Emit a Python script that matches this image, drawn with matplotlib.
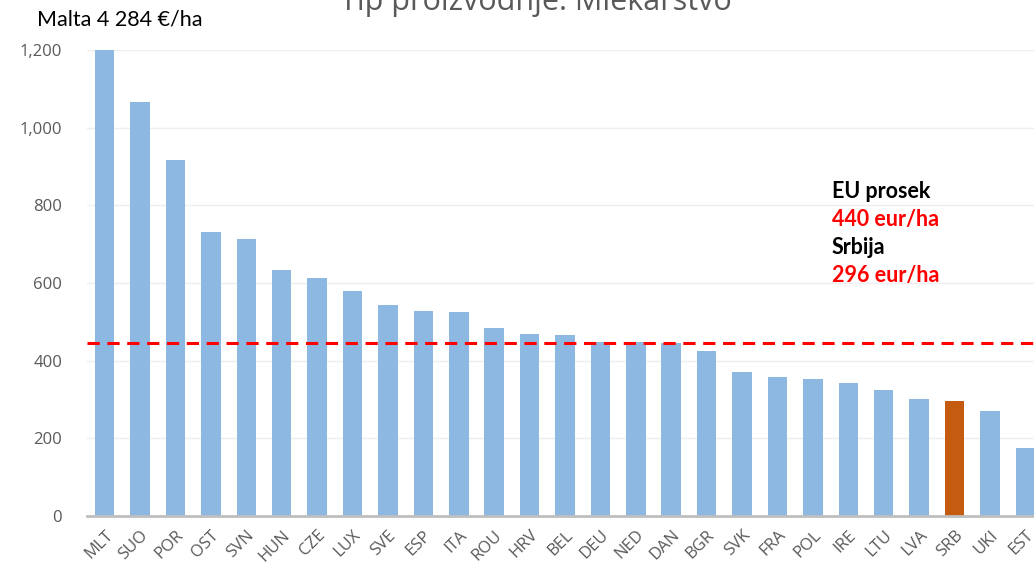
import matplotlib.pyplot as plt

countries = ["MLT", "SUO", "POR", "OST", "SVN", "HUN", "CZE", "LUX", "SVE", "ESP",
             "ITA", "ROU", "HRV", "BEL", "DEU", "NED", "DAN", "BGR", "SVK", "FRA",
             "POL", "IRE", "LTU", "LVA", "SRB", "UKI", "EST"]
values = [4284, 1066, 917, 731, 713, 633, 613, 579, 543, 528,
          525, 484, 469, 466, 448, 448, 445, 425, 371, 358,
          353, 343, 324, 301, 296, 270, 175]
eu_avg_line = 445
highlight = "SRB"

fig = plt.figure(figsize=(10.34, 5.65), dpi=100)
ax = fig.add_axes([87 / 1034, 49 / 565, 956 / 1034, 466 / 565])

colors = ["#C55A11" if c == highlight else "#8DB8E2" for c in countries]
x = list(range(len(countries)))
ax.bar(x, values, width=0.55, color=colors, zorder=2)
ax.axhline(eu_avg_line, color="#FF0000", lw=2.2, ls=(0, (4, 2.5)), zorder=3)

ax.set_xlim(-0.5, len(countries) - 0.5)
ax.set_ylim(0, 1200)
ax.set_yticks(range(0, 1201, 200))
ax.set_yticklabels([f"{v:,}" for v in range(0, 1201, 200)])
ax.set_xticks(x)
ax.set_xticklabels(countries, rotation=45, ha="right", rotation_mode="anchor")

ax.grid(axis="y", color="#EEEEEE", lw=1, zorder=0)
for s in ["top", "right", "left"]:
    ax.spines[s].set_visible(False)
ax.spines["bottom"].set_color("#BFBFBF")
ax.spines["bottom"].set_linewidth(2)
ax.spines["bottom"].set_zorder(4)
ax.tick_params(axis="both", length=0, labelsize=12, labelcolor="#595959")
ax.tick_params(axis="y", pad=18)
ax.tick_params(axis="x", pad=8)
for lab in ax.get_xticklabels() + ax.get_yticklabels():
    lab.set_family("Open Sans")

fig.text(0.518, 0.983, "Tip proizvodnje: Mlekarstvo", ha="center", va="baseline",
         fontsize=22, color="#595959", family="Open Sans")
fig.text(37 / 1034, 1 - 19 / 565, "Malta 4 284 €/ha", ha="left", va="center",
         fontsize=15.5, color="black", family="Lato")

notes = [("EU prosek", "black"), ("440 eur/ha", "#FF0000"),
         ("Srbija", "black"), ("296 eur/ha", "#FF0000")]
for i, (txt, col) in enumerate(notes):
    fig.text(832 / 1034, 1 - (192 + i * 27.7) / 565, txt, ha="left", va="center",
             fontsize=15.5, fontweight="bold", color=col, family="Lato")

fig.savefig("out.png", dpi=100)
